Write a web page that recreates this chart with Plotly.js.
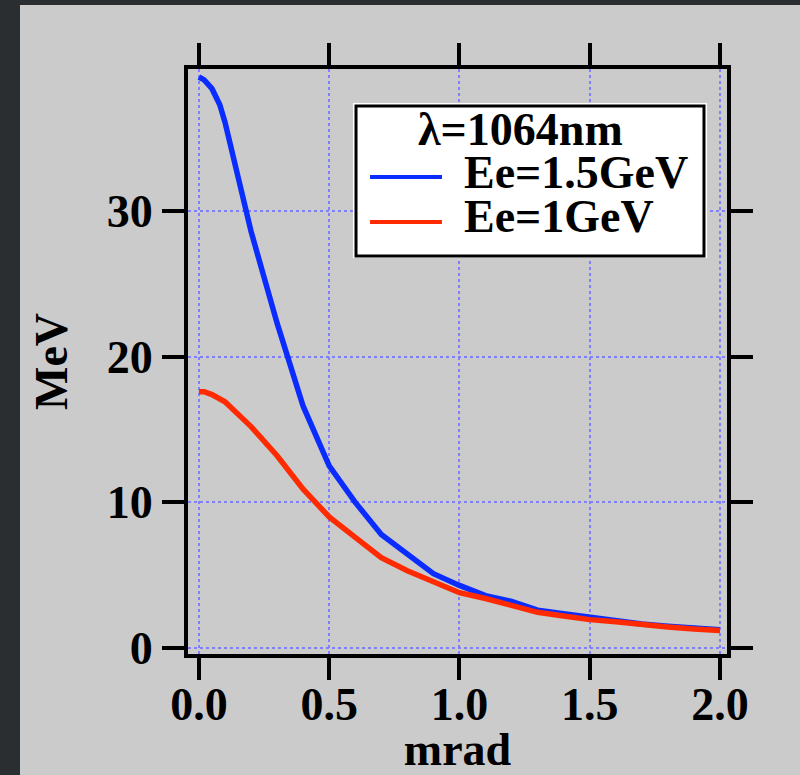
<!DOCTYPE html>
<html>
<head>
<meta charset="utf-8">
<script src="https://cdn.plot.ly/plotly-3.0.1.min.js"></script>
<style>
  html, body { margin: 0; padding: 0; width: 800px; height: 775px; overflow: hidden; background: #2b2e30; }
  #chart { position: absolute; left: 20px; top: 5px; width: 780px; height: 770px; }
</style>
</head>
<body>
<div id="chart"></div>
<script>
// Data
const angle_mrad = [0, 0.02, 0.05, 0.08, 0.1, 0.2, 0.3, 0.4, 0.5, 0.6, 0.7, 0.8, 0.9, 1.0, 1.1, 1.2, 1.3, 1.4, 1.5, 1.6, 1.7, 1.8, 1.9, 2.0];
const energy_1p5GeV = [39.2, 39.0, 38.4, 37.3, 36.1, 28.6, 22.3, 16.6, 12.5, 10.0, 7.8, 6.4, 5.1, 4.3, 3.6, 3.2, 2.6, 2.35, 2.1, 1.85, 1.65, 1.5, 1.35, 1.25];
const energy_1GeV = [17.6, 17.6, 17.4, 17.1, 16.9, 15.2, 13.2, 10.9, 9.0, 7.6, 6.2, 5.3, 4.5, 3.8, 3.4, 2.9, 2.45, 2.2, 1.95, 1.8, 1.6, 1.45, 1.3, 1.2];
const seriesNames = ['Ee=1.5GeV', 'Ee=1GeV'];
const seriesColors = ['#0a2cff', '#ff2a00'];
const legendTitle = 'λ=1064nm';
const xTickVals = [0, 0.5, 1.0, 1.5, 2.0];
const yTickVals = [0, 10, 20, 30];
const xLabel = 'mrad';
const yLabel = 'MeV';

const FONT = '"Liberation Serif", "Times New Roman", serif';
const FS = 46;

const traces = [
  { x: angle_mrad, y: energy_1p5GeV, name: seriesNames[0], mode: 'lines', line: { color: seriesColors[0], width: 5.5 } },
  { x: angle_mrad, y: energy_1GeV, name: seriesNames[1], mode: 'lines', line: { color: seriesColors[1], width: 5.5 } }
];

const axisCommon = {
  showline: true, linecolor: '#000', linewidth: 4, mirror: 'ticks',
  ticks: 'outside', ticklen: 22, tickwidth: 4, tickcolor: '#000',
  showgrid: true, gridcolor: '#7f7fff', gridwidth: 2, griddash: 'dot',
  zeroline: false,
  tickfont: { family: FONT, size: FS, color: '#000', weight: 'bold' }
};

// manual legend, in plot-paper coordinates
const shapes = [
  { type: 'rect', xref: 'paper', yref: 'paper', x0: 0.306, x1: 0.963, y0: 0.677, y1: 0.942, fillcolor: '#ffffff', line: { width: 0 }, layer: 'above' },
  { type: 'rect', xref: 'paper', yref: 'paper', x0: 0.3117, x1: 0.9573, y0: 0.6803, y1: 0.9368, fillcolor: 'rgba(0,0,0,0)', line: { color: '#000', width: 3 }, layer: 'above' }
];
const entryY = [0.8154, 0.7385];
const textY = [0.8224, 0.7474];
const annotations = [
  { xref: 'paper', yref: 'paper', x: 0.616, y: 0.8966, text: legendTitle, showarrow: false, xanchor: 'center', yanchor: 'middle',
    font: { family: FONT, size: FS, color: '#000', weight: 'bold' } }
];
seriesNames.forEach((nm, i) => {
  shapes.push({ type: 'line', xref: 'paper', yref: 'paper', x0: 0.3377, x1: 0.4712, y0: entryY[i], y1: entryY[i], line: { color: seriesColors[i], width: 4 }, layer: 'above' });
  annotations.push({ xref: 'paper', yref: 'paper', x: 0.5083, y: textY[i], text: nm, showarrow: false, xanchor: 'left', yanchor: 'middle',
    font: { family: FONT, size: FS, color: '#000', weight: 'bold' } });
});

const layout = {
  width: 780, height: 770,
  paper_bgcolor: '#cbcbcb', plot_bgcolor: '#cbcbcb',
  margin: { l: 168, r: 73, t: 64, b: 121 },
  showlegend: false,
  xaxis: Object.assign({}, axisCommon, {
    range: [-0.042, 2.027], tickvals: xTickVals, tickformat: '.1f', ticklabelstandoff: -15,
    title: { text: xLabel, font: { family: FONT, size: FS, color: '#000', weight: 'bold' }, standoff: 8 }
  }),
  yaxis: Object.assign({}, axisCommon, {
    range: [-0.41, 39.75], tickvals: yTickVals,
    title: { text: yLabel, font: { family: FONT, size: FS, color: '#000', weight: 'bold' }, standoff: 26 }
  }),
  shapes: shapes,
  annotations: annotations
};

Plotly.newPlot('chart', traces, layout, { displayModeBar: false, staticPlot: true });
</script>
</body>
</html>
